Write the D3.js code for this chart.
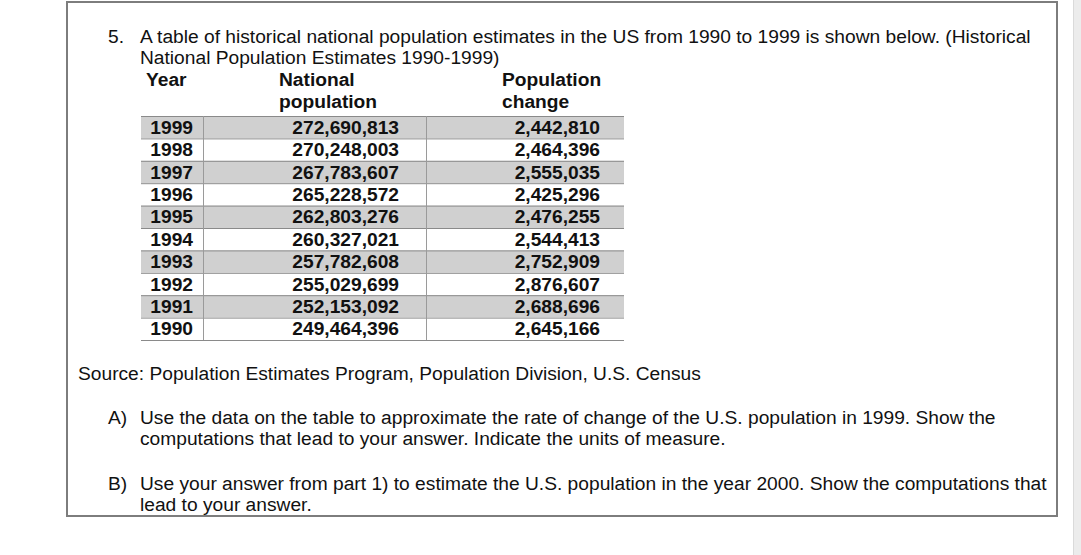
<!DOCTYPE html>
<html>
<head>
<meta charset="utf-8">
<script src="https://cdn.jsdelivr.net/npm/d3@7"></script>
<style>
  html, body { margin: 0; padding: 0; background: #fff; }
  svg text { font-family: "Liberation Sans", Arial, sans-serif; fill: #111; }
</style>
</head>
<body>
<div id="chart"></div>
<script>
// ---- data ----
const years = [1999, 1998, 1997, 1996, 1995, 1994, 1993, 1992, 1991, 1990];
const nationalPopulation = [272690813, 270248003, 267783607, 265228572, 262803276,
                            260327021, 257782608, 255029699, 252153092, 249464396];
const populationChange = [2442810, 2464396, 2555035, 2425296, 2476255,
                          2544413, 2752909, 2876607, 2688696, 2645166];
const columnHeaders = [["Year"], ["National", "population"], ["Population", "change"]];
const introLines = [
  "A table of historical national population estimates in the US from 1990 to 1999 is shown below. (Historical",
  "National Population Estimates 1990-1999)"
];
const sourceText = "Source: Population Estimates Program, Population Division, U.S. Census";
const partA = ["Use the data on the table to approximate the rate of change of the U.S. population in 1999. Show the",
               "computations that lead to your answer. Indicate the units of measure."];
const partB = ["Use your answer from part 1) to estimate the U.S. population in the year 2000. Show the computations that",
               "lead to your answer."];

const W = 1081, H = 555;
const svg = d3.select("#chart").append("svg").attr("width", W).attr("height", H);

// right gray strip (page edge)
svg.append("rect").attr("x", 1073).attr("y", 0).attr("width", 8).attr("height", H).attr("fill", "#ececec");
svg.append("line").attr("x1", 1073.5).attr("x2", 1073.5).attr("y1", 0).attr("y2", H).attr("stroke", "#dadada");

// outer box
svg.append("rect").attr("x", 67).attr("y", 2).attr("width", 990).attr("height", 514)
  .attr("fill", "none").attr("stroke", "#7d7d7d").attr("stroke-width", 2);

const fs = 19.2;
// intro
svg.append("text").attr("x", 108).attr("y", 43).attr("font-size", fs).text("5.");
introLines.forEach((t, i) => {
  svg.append("text").attr("x", 140).attr("y", 43 + i * 21).attr("font-size", fs).text(t);
});

// table scales
const tableLeft = 141, tableRight = 624;
const colEdges = [tableLeft, 203, 426, tableRight];
const y = d3.scaleBand().domain(years).range([116, 340]).padding(0);

const fmt = d3.format(",");
const rows = svg.append("g").selectAll("g").data(years).join("g");
rows.append("rect")
  .attr("x", tableLeft).attr("y", d => y(d))
  .attr("width", tableRight - tableLeft).attr("height", y.bandwidth())
  .attr("fill", (d, i) => i % 2 === 0 ? "#d0d0d0" : "#ffffff");
// horizontal lines
svg.append("g").selectAll("line").data(years.concat(["end"])).join("line")
  .attr("x1", tableLeft).attr("x2", tableRight)
  .attr("y1", (d, i) => (i < years.length ? y(d) : y.range()[1]) + 0.5)
  .attr("y2", (d, i) => (i < years.length ? y(d) : y.range()[1]) + 0.5)
  .attr("stroke", "#8a8a8a").attr("stroke-width", 1);
// vertical lines
svg.append("g").selectAll("line").data([colEdges[1], colEdges[2]]).join("line")
  .attr("x1", d => d + 0.5).attr("x2", d => d + 0.5)
  .attr("y1", y.range()[0]).attr("y2", y.range()[1])
  .attr("stroke", "#9a9a9a");

const textRight = [193, 399, 600];
const cols = [years.map(String), nationalPopulation.map(fmt), populationChange.map(fmt)];
cols.forEach((vals, c) => {
  svg.append("g").selectAll("text").data(vals).join("text")
    .attr("x", textRight[c])
    .attr("y", (d, i) => y(years[i]) + y.bandwidth() / 2 + 6.5)
    .attr("text-anchor", "end")
    .attr("font-weight", "bold").attr("font-size", fs)
    .text(d => d);
});

// headers
const headerX = [146, 279, 502];
columnHeaders.forEach((lines, c) => {
  lines.forEach((t, j) => {
    svg.append("text").attr("x", headerX[c]).attr("y", 86 + j * 22)
      .attr("font-weight", "bold").attr("font-size", fs).text(t);
  });
});

// source & parts
svg.append("text").attr("x", 78).attr("y", 380).attr("font-size", fs).text(sourceText);
svg.append("text").attr("x", 108).attr("y", 424).attr("font-size", fs).text("A)");
partA.forEach((t, i) => svg.append("text").attr("x", 140).attr("y", 424 + i * 21).attr("font-size", fs).text(t));
svg.append("text").attr("x", 108).attr("y", 490).attr("font-size", fs).text("B)");
partB.forEach((t, i) => svg.append("text").attr("x", 140).attr("y", 490 + i * 21).attr("font-size", fs).text(t));
</script>
</body>
</html>
